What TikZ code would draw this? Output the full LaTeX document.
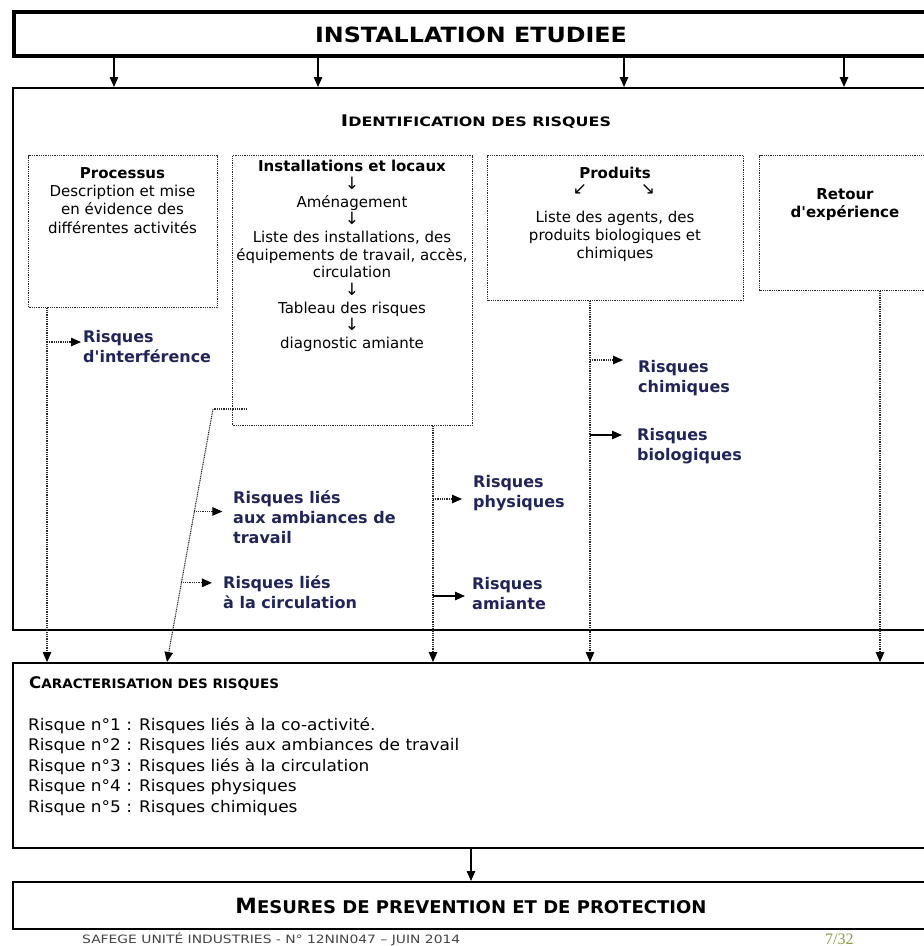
\documentclass[tikz,border=0pt]{standalone}
\usepackage{fontspec}
\setmainfont{DejaVu Sans}
\newfontfamily\ftserif{Liberation Serif}
\newfontfamily\ftwide[FakeStretch=1.06]{DejaVu Sans}
\usetikzlibrary{arrows.meta,calc}
\definecolor{navy}{HTML}{20245A}
\definecolor{olivegreen}{HTML}{8C9A45}
\definecolor{dotgray}{HTML}{2A2A2A}
\definecolor{footgray}{HTML}{444444}
\newcommand{\fsz}[2]{\fontsize{#1}{#2}\selectfont}
\newcommand{\apos}{\textquotesingle}
\newcommand{\dn}{{\fontsize{17}{17}\selectfont ↓}}
\begin{document}
\begin{tikzpicture}[x=1pt,y=-1pt,
  >={Triangle[length=10pt,width=8.5pt]},
  thickframe/.style={draw, line width=4pt, inner sep=0pt, anchor=north west},
  frame/.style={draw, line width=1.8pt, inner sep=0pt, anchor=north west},
  fine dots/.style={dash pattern=on 1pt off 0.8pt},
  dotbox/.style={draw=dotgray, fine dots, line width=1.1pt, inner sep=0pt, anchor=north west},
  solidarr/.style={->, line width=1.2pt},
  dotarr/.style={-{Triangle[length=10pt,width=8.5pt,color=black]}, draw=dotgray, fine dots, line width=1.1pt},
  dotlink/.style={draw=dotgray, fine dots, line width=1.1pt},
  risk/.style={font=\fsz{16}{20}\bfseries, text=navy, align=left, anchor=north west, inner sep=0pt},
  body/.style={font=\fsz{15}{18}, align=center, anchor=north, inner sep=0pt},
  title/.style={font=\bfseries, inner sep=0pt, anchor=base},
]
\useasboundingbox (0,0) rectangle (924,946);
\clip (0,0) rectangle (924,946);

% main frames
\node[thickframe, minimum width=925pt, minimum height=44.5pt] (top) at (12,9.5) {};
\node[title] (toptext) at (471,42) {\resizebox{312pt}{\height}{\fsz{21}{21}INSTALLATION ETUDIEE}};

\node[frame, minimum width=928pt, minimum height=542pt] (ident) at (12,87) {};
\node[title] (identtext) at (476,126) {\resizebox{270pt}{\height}{\fsz{16}{16}I\fsz{13}{13}DENTIFICATION DES RISQUES}};

\node[frame, minimum width=928pt, minimum height=185pt] (car) at (12,662) {};
\node[title, anchor=base west] (cartext) at (29,688) {\resizebox{250pt}{\height}{\fsz{16}{16}C\fsz{13}{13}ARACTERISATION DES RISQUES}};
\node[anchor=north west, inner sep=0pt, align=left, font=\ftwide\fsz{16}{20.5}] (carlist) at (28,717)
  {Risque n°1 : Risques liés à la co-activité.\\
   Risque n°2 : Risques liés aux ambiances de travail\\
   Risque n°3 : Risques liés à la circulation\\
   Risque n°4 : Risques physiques\\
   Risque n°5 : Risques chimiques};

\node[frame, minimum width=928pt, minimum height=47pt] (mes) at (12,881) {};
\node[title] (mestext) at (471,913) {\resizebox{471pt}{\height}{\fsz{21}{21}M\fsz{17.5}{17.5}ESURES DE PREVENTION ET DE PROTECTION}};

% dotted boxes
\node[dotbox, minimum width=189pt, minimum height=152pt] (proc) at (28,155) {};
\node[dotbox, minimum width=240pt, minimum height=270pt] (inst) at (232,155) {};
\node[dotbox, minimum width=256pt, minimum height=145pt] (prod) at (487,155) {};
\node[dotbox, minimum width=172pt, minimum height=135pt] (ret) at (759,155) {};

\node[body, font=\fsz{15}{18.3}] (proctext) at (122.5,167)
  {\textbf{Processus}\\Description et mise\\en évidence des\\différentes activités};
\node[body, font=\fsz{15}{17.7}] (insttext) at (352,160)
  {\textbf{Installations et locaux}\\\dn\\Aménagement\\\dn\\Liste des installations, des\\équipements de travail, accès,\\circulation\\\dn\\Tableau des risques\\\dn\\diagnostic amiante};
\node[body] (prodtitle) at (615,167) {\textbf{Produits}};
\node[inner sep=0pt, font=\fsz{17}{17}] (prodsw) at (580,190) {↙};
\node[inner sep=0pt, font=\fsz{17}{17}] (prodse) at (648,190) {↘};
\node[body] (prodtext) at (615,211)
  {Liste des agents, des\\produits biologiques et\\chimiques};
\node[body, font=\fsz{15}{18}\bfseries] (rettext) at (845,188) {Retour\\d\apos expérience};

% risk labels
\node[risk] (rinterf) at (83,330.6) {Risques\\d\apos interférence};
\node[risk] (ramb) at (233,490.6) {Risques liés\\aux ambiances de\\travail};
\node[risk] (rcirc) at (223,575.6) {Risques liés\\à la circulation};
\node[risk] (rphys) at (473,475.6) {Risques\\physiques};
\node[risk] (ramiante) at (472,577.6) {Risques\\amiante};
\node[risk] (rchim) at (638,360.6) {Risques\\chimiques};
\node[risk] (rbio) at (637,428.6) {Risques\\biologiques};

% footer
\node[anchor=west, inner sep=0pt, text=footgray, font=\fsz{11.5}{11.5}] (foot) at (82,939)
  {\resizebox{378pt}{\height}{SAFEGE UNITÉ INDUSTRIES - N° 12NIN047 – JUIN 2014}};
\node[anchor=west, inner sep=0pt, text=olivegreen, font=\ftserif\fsz{16}{16}] (page) at (825,939) {7/32};

% arrows from top box
\coordinate (a1) at (114,0);
\coordinate (a2) at (318,0);
\coordinate (a3) at (624,0);
\coordinate (a4) at (844,0);
\foreach \c in {a1,a2,a3,a4}{
  \draw[solidarr] (top.south -| \c) -- (ident.north -| \c);
}

% vertical dotted connectors
\coordinate (vproc) at (47,0);
\coordinate (vinst) at (433,0);
\coordinate (vprod) at (590,0);
\coordinate (vret) at (880,0);
\draw[dotarr] (proc.south -| vproc) -- (car.north -| vproc);
\draw[dotarr] (inst.south -| vinst) -- (car.north -| vinst);
\draw[dotarr] (prod.south -| vprod) -- (car.north -| vprod);
\draw[dotarr] (ret.south -| vret) -- (car.north -| vret);

% diagonal connector from installations
\coordinate (dstart) at (247,409);
\coordinate (dknee) at (213,409);
\coordinate (dend) at (167,662);
\draw[dotlink] (dstart) -- (dknee);
\draw[dotarr] (dknee) -- (dend);

% branches
\coordinate (binterf) at (47,342);
\draw[dotarr] (binterf) -- ++(34,0);
\draw[dotarr] ($(dknee)!0.405!(dend)$) -- ++(28,0);
\draw[dotarr] ($(dknee)!0.687!(dend)$) -- ++(30.6,0);
\coordinate (bphys) at (433,499);
\coordinate (bamiante) at (433,596);
\coordinate (bchim) at (590,360);
\coordinate (bbio) at (590,435);
\draw[dotarr] (bphys) -- ++(29,0);
\draw[solidarr] (bamiante) -- ++(32,0);
\draw[dotarr] (bchim) -- ++(33,0);
\draw[solidarr] (bbio) -- ++(32,0);

% arrow to mesures
\draw[solidarr] (car.south -| mestext) -- (mes.north -| mestext);
\end{tikzpicture}
\end{document}
